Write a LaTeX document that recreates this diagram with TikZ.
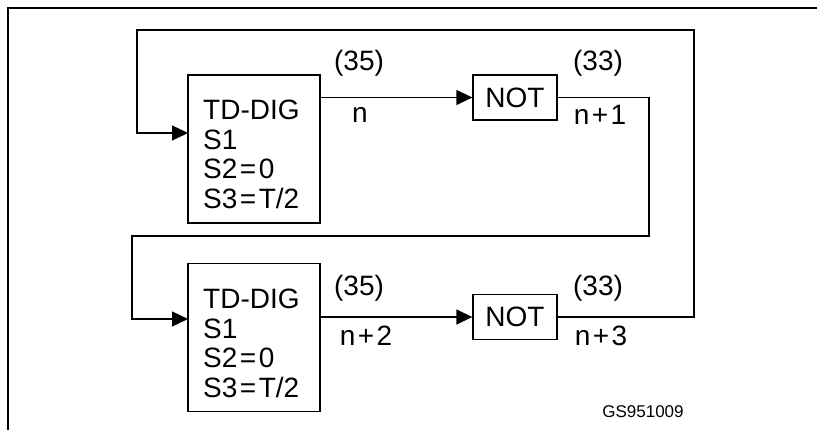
\documentclass[tikz,border=0pt]{standalone}
\usepackage{fontspec}
\setmainfont{Liberation Sans}
\usetikzlibrary{arrows.meta}
\newcommand{\eqs}{\kern2.5bp=\kern2.5bp}
\newcommand{\pls}{\kern2.5bp+\kern2.5bp}
\begin{document}
\begin{tikzpicture}[x=1bp,y=-1bp,
  blk/.style={draw, line width=1.3bp, minimum width=132bp, minimum height=148bp, inner sep=0},
  notbox/.style={draw, line width=1.3bp, minimum width=84bp, minimum height=45bp, inner sep=0, font=\fontsize{28bp}{30bp}\selectfont},
  wire/.style={line width=1.3bp},
  arr/.style={wire, -{Triangle[length=16bp,width=15bp]}},
  lbl/.style={inner sep=0, font=\fontsize{28bp}{29.5bp}\selectfont},
  small/.style={inner sep=0, font=\fontsize{17bp}{20bp}\selectfont}]
\useasboundingbox (0,0) rectangle (817,430);
% frame
\draw[line width=1.3bp] (817,8) -- (8,8) -- (8,430);
% blocks
\node[blk] (B1) at (254,149) {};
\node[lbl, align=left, anchor=north west] (B1t) at (203,100) {TD-DIG\\S1\\S2\eqs0\\S3\eqs T/2};
\node[notbox] (N1) at (515,97.5) {NOT};
\node[blk] (B2) at (254,337.5) {};
\node[lbl, align=left, anchor=north west] (B2t) at (203,289) {TD-DIG\\S1\\S2\eqs0\\S3\eqs T/2};
\node[notbox] (N2) at (515,317) {NOT};
% connectors
\draw[arr] (B1.east |- N1.west) -- (N1.west);
\coordinate (i2) at (188,319);
\draw[arr] (N1.east) -- (649,97.5) -- (649,236) -- (132,236) -- (132,319) -- (i2);
\draw[arr] (B2.east |- N2.west) -- (N2.west);
\coordinate (i1) at (188,133);
\draw[arr] (N2.east) -- (694,317) -- (694,30) -- (137,30) -- (137,133) -- (i1);
% labels
\node[lbl] (l1) at (359,63) {(35)};
\node[lbl] (l2) at (360,115) {n};
\node[lbl] (l3) at (598,63) {(33)};
\node[lbl] (l4) at (600,115) {n\pls1};
\node[lbl] (l5) at (359,288) {(35)};
\node[lbl] (l6) at (366,336) {n\pls2};
\node[lbl] (l7) at (598,288) {(33)};
\node[lbl] (l8) at (601,336) {n\pls3};
\node[small] (gs) at (643,412) {GS951009};
\end{tikzpicture}
\end{document}
